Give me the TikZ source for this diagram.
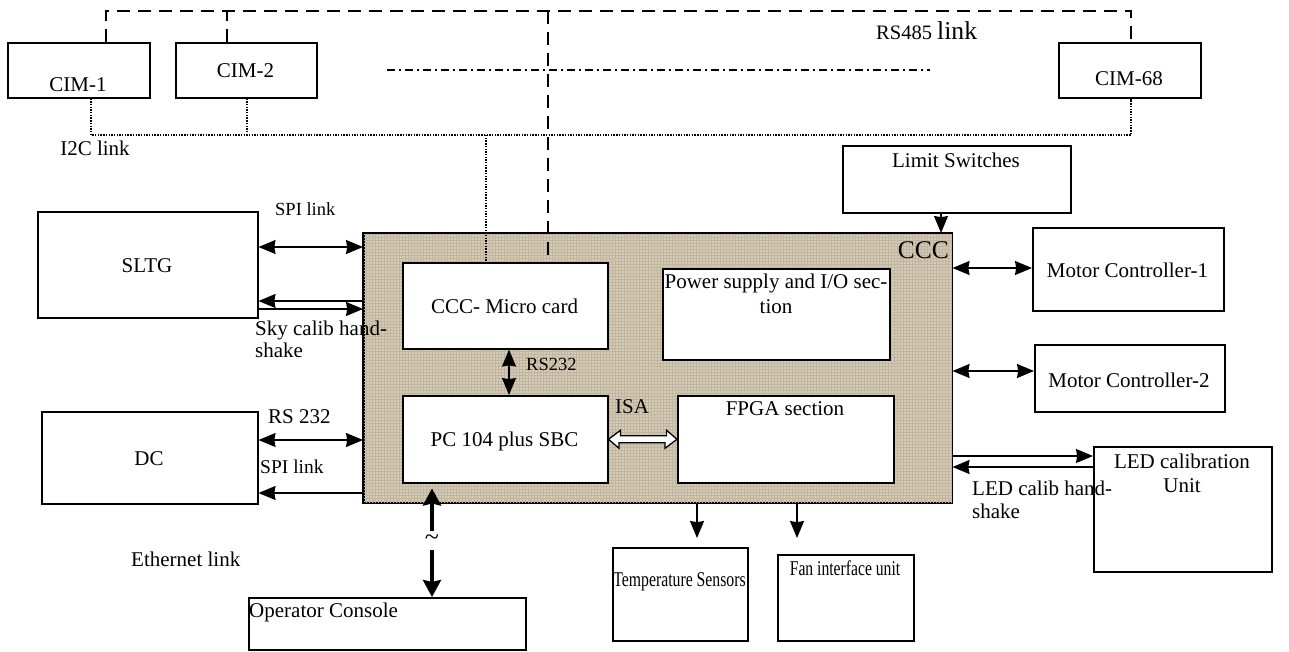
\documentclass[tikz,border=0pt]{standalone}
\usepackage{fontspec}
\setmainfont{Liberation Serif}
\usepackage{graphicx}
\usetikzlibrary{arrows.meta,calc,patterns}
\definecolor{cccfill}{RGB}{212,202,182}
\definecolor{ccctex}{RGB}{192,181,158}
\tikzset{
  box/.style={draw, line width=1.5pt, fill=white, inner sep=0pt, anchor=north west},
  txt/.style={inner sep=0pt, anchor=base, font=\fontsize{21}{24}\selectfont},
  arr/.style={line width=1.5pt, -{Stealth[length=17pt,width=14pt,inset=1.2pt]}},
  darr/.style={line width=1.5pt, {Stealth[length=17pt,width=14pt,inset=1.2pt]}-{Stealth[length=17pt,width=14pt,inset=1.2pt]}},
  eth/.style={line width=3.8pt, -{Stealth[length=17pt,width=18pt,inset=2pt]}},
  rsbus/.style={line width=1.8pt, dash pattern=on 13pt off 8pt},
  iicbus/.style={line width=1.7pt, dash pattern=on 1.4pt off 1.3pt},
  dashdot/.style={line width=1.6pt, dash pattern=on 8pt off 4pt on 2pt off 4pt}
}
\begin{document}
\begin{tikzpicture}[x=1pt,y=-1pt]
\useasboundingbox (0,0) rectangle (1289,651);

% CIM boxes
\node[box, minimum width=142pt, minimum height=55pt] (cim1) at (7,42) {};
\node[box, minimum width=141pt, minimum height=55pt] (cim2) at (175,42) {};
\node[box, minimum width=142pt, minimum height=55pt] (cim68) at (1058,42) {};
\node[txt] (cim1T) at (78,91) {CIM-1};
\node[txt] (cim2T) at (245.5,77) {CIM-2};
\node[txt] (cim68T) at (1129,85) {CIM-68};

% RS485 bus
\coordinate (rsL) at (106,11);
\coordinate (rs2) at (227,11);
\coordinate (rsM) at (548,11);
\coordinate (rsR) at (1131,11);
\draw[rsbus] (cim1.north -| rsL) -- (rsL) -- (rsR) -- (cim68.north -| rsR);
\draw[rsbus] (cim2.north -| rs2) -- (rs2);
\node[anchor=base west, inner sep=0pt] (rs485T) at (876,39) {\fontsize{20.5}{24}\selectfont RS485 \fontsize{25.7}{28}\selectfont link};

% dash-dot ellipsis
\coordinate (ddL) at (387,70);
\coordinate (ddR) at (930,70);
\draw[dashdot] (ddL) -- (ddR);

% I2C bus
\coordinate (iL) at (91,135);
\coordinate (i2) at (247,135);
\coordinate (iM) at (486,135);
\coordinate (iR) at (1131,135);
\draw[iicbus] (cim1.south -| iL) -- (iL) -- (iR) -- (cim68.south -| iR);
\draw[iicbus] (cim2.south -| i2) -- (i2);
\node[txt] (i2cT) at (95,155) {I2C link};

% Limit switches
\node[box, minimum width=228pt, minimum height=67pt] (ls) at (842,145) {};
\node[txt] (lsT) at (956,167) {Limit Switches};

% SLTG and DC
\node[box, minimum width=220pt, minimum height=106pt] (sltg) at (37,211) {};
\node[txt] (sltgT) at (147,272) {SLTG};
\node[box, minimum width=216pt, minimum height=92pt] (dc) at (41,411) {};
\node[txt] (dcT) at (149,465) {DC};

% CCC
\node[box, fill=cccfill, minimum width=588pt, minimum height=269pt] (ccc) at (363,233) {};
\fill[pattern=grid, pattern color=ccctex] (ccc.north west) rectangle (ccc.south east);
\draw[line width=1.5pt] (ccc.north west) rectangle (ccc.south east);
\node[anchor=base east, inner sep=0pt, font=\fontsize{25.5}{28}\selectfont] (cccT) at (949,258) {CCC};

\node[box, minimum width=205pt, minimum height=86pt] (micro) at (402,262) {};
\node[txt] (microT) at (504.5,313) {CCC- Micro card};
\node[box, minimum width=205pt, minimum height=87pt] (pc) at (402,395) {};
\node[txt] (pcT) at (504.5,446) {PC 104 plus SBC};
\node[box, minimum width=227pt, minimum height=91pt] (psu) at (662,268) {};
\node[txt] (psuT1) at (776,288) {Power supply and I/O sec-};
\node[txt] (psuT2) at (776,313) {tion};
\node[box, minimum width=216pt, minimum height=87pt] (fpga) at (677,395) {};
\node[txt] (fpgaT) at (785,415) {FPGA section};

% Motor controllers, LED unit
\node[box, minimum width=191pt, minimum height=83pt] (mc1) at (1032,227) {};
\node[txt] (mc1T) at (1127.5,277) {Motor Controller-1};
\node[box, minimum width=190pt, minimum height=67pt] (mc2) at (1034,344) {};
\node[txt] (mc2T) at (1129,387) {Motor Controller-2};
\node[box, minimum width=178pt, minimum height=125pt] (led) at (1093,446) {};
\node[txt] (ledT1) at (1182,468) {LED calibration};
\node[txt] (ledT2) at (1182,492) {Unit};

% bottom boxes
\node[box, minimum width=135pt, minimum height=93pt] (ts) at (612,547) {};
\node[txt] (tsT) at (679.5,586) {\scalebox{0.75}[1]{Temperature Sensors}};
\node[box, minimum width=136pt, minimum height=86pt] (fan) at (777,554) {};
\node[txt] (fanT) at (845,575) {\scalebox{0.745}[1]{Fan interface unit}};
\node[box, minimum width=277pt, minimum height=52pt] (oc) at (248,597) {};
\node[txt, anchor=base west] (ocT) at (249,617) {Operator Console};

% buses into the micro card
\draw[iicbus] (iM) -- (micro.north -| iM);
\draw[rsbus] (rsM) -- (micro.north -| rsM);

% SLTG links
\draw[darr] (sltg.east |- 0,247) -- (ccc.west |- 0,247);
\node[txt, anchor=base west, font=\fontsize{18.5}{22}\selectfont] (spi1T) at (275,215) {SPI link};
\draw[arr] (ccc.west |- 0,301) -- (sltg.east |- 0,301);
\draw[arr] (sltg.east |- 0,309) -- (ccc.west |- 0,309);
\node[txt, anchor=base west] (skyT1) at (255,335) {Sky calib hand-};
\node[txt, anchor=base west] (skyT2) at (255,357) {shake};

% DC links
\draw[darr] (dc.east |- 0,440) -- (ccc.west |- 0,440);
\node[txt, anchor=base west] (rs232dT) at (268,423) {RS 232};
\draw[arr] (ccc.west |- 0,493) -- (dc.east |- 0,493);
\node[txt, anchor=base west, font=\fontsize{19.5}{22}\selectfont] (spi2T) at (260,473) {SPI link};

% internal links
\draw[darr] (micro.south -| 509,0) -- (pc.north -| 509,0);
\node[txt, anchor=base west, font=\fontsize{18.5}{22}\selectfont] (rs232iT) at (526,370) {RS232};
\draw[line width=1.3pt, fill=white] (pc.east) -- ++(12,-9) -- ++(0,5.5) -- ++(46,0) -- ++(0,-5.5) -- (fpga.west) -- ++(-12,9) -- ++(0,-5.5) -- ++(-46,0) -- ++(0,5.5) -- cycle;
\node[txt, anchor=base west] (isaT) at (615,413) {ISA};

% right links
\draw[arr] (ls.south -| 941,0) -- (ccc.north -| 941,0);
\draw[darr] (ccc.east |- 0,268) -- (mc1.west |- 0,268);
\draw[darr] (ccc.east |- 0,371) -- (mc2.west |- 0,371);
\draw[arr] (ccc.east |- 0,456) -- (led.west |- 0,456);
\draw[arr] (led.west |- 0,467) -- (ccc.east |- 0,467);
\node[txt, anchor=base west] (ledcT1) at (972,495) {LED calib hand-};
\node[txt, anchor=base west] (ledcT2) at (972,518) {shake};

% bottom links
\draw[arr, shorten >=9pt] (ccc.south -| 697,0) -- (ts.north -| 697,0);
\draw[arr, shorten >=16pt] (ccc.south -| 797,0) -- (fan.north -| 797,0);

% Ethernet
\coordinate (ethU) at (432,531);
\coordinate (ethD) at (432,550);
\draw[eth, shorten >=5pt] (ethU) -- (pc.south -| ethU);
\draw[eth] (ethD) -- (oc.north -| ethD);
\node[inner sep=0pt, font=\fontsize{26}{26}\selectfont] (tildeT) at (432,540) {\char"007E};
\node[txt, anchor=base west] (ethT) at (131,566) {Ethernet link};
\end{tikzpicture}
\end{document}
